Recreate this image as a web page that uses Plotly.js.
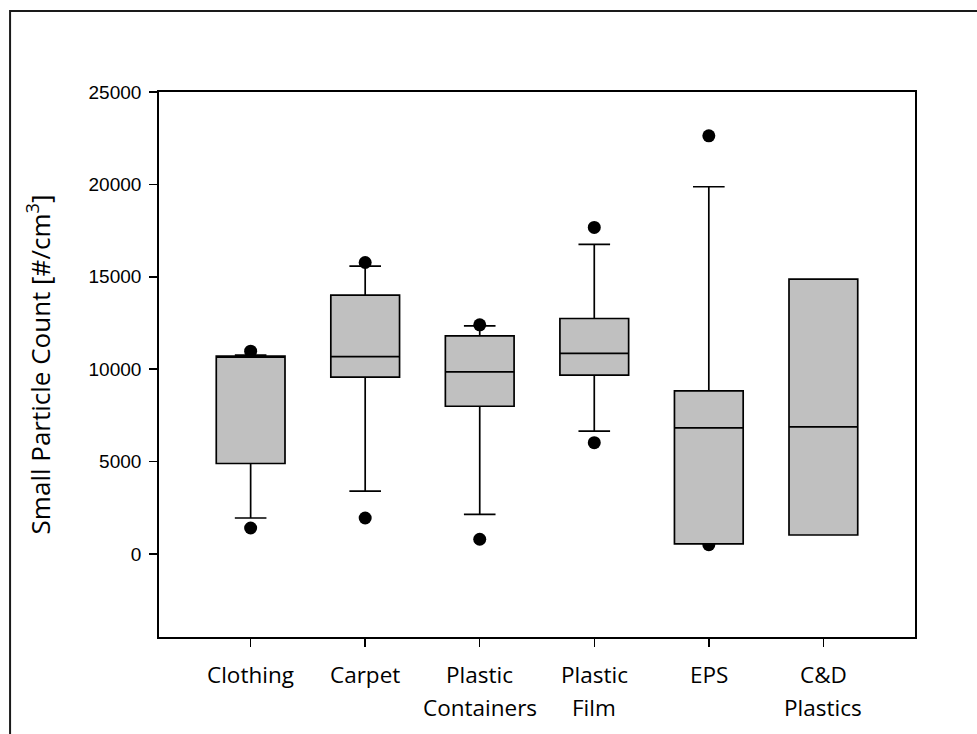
<!DOCTYPE html>
<html>
<head>
<meta charset="utf-8">
<script src="https://cdn.plot.ly/plotly-3.0.1.min.js"></script>
<style>
  html, body { margin: 0; padding: 0; background: #fff; }
  #chart { width: 977px; height: 734px; }
</style>
</head>
<body>
<div id="chart"></div>
<script>
// Material categories (label words are stacked one per line under the axis)
const categories = ['Clothing', 'Carpet', 'Plastic Containers', 'Plastic Film', 'EPS', 'C&D Plastics'];

// Box statistics, particles per cm^3
const q1           = [4890,  9570,  7990,  9670,  540,  1020];
const median       = [10650, 10680, 9850,  10850, 6820, 6870];
const q3           = [10700, 14000, 11800, 12740, 8820, 14870];
const lowerWhisker = [1940,  3400,  2140,  6640,  540,  1020];
const upperWhisker = [10760, 15570, 12340, 16750, 19870, 14870];

// Points beyond the whiskers (null where a group has none)
const lowPoints  = [1400,  1940,  790,   6020,  500,   null];
const highPoints = [10970, 15770, 12400, 17670, 22630, null];

// Y axis ticks
const yTicks = [0, 5000, 10000, 15000, 20000, 25000];
const yRange = [-4500, 25000];

const pointX = [], pointY = [];
categories.forEach((c, i) => {
  [lowPoints[i], highPoints[i]].forEach(v => {
    if (v !== null) { pointX.push(c); pointY.push(v); }
  });
});

// Points sit on the base subplot so the boxes (overlay subplot) paint over them
const points = {
  type: 'scatter', mode: 'markers',
  x: pointX, y: pointY,
  marker: { color: '#000', size: 13 },
  hoverinfo: 'y', showlegend: false
};

const boxes = {
  type: 'box',
  xaxis: 'x', yaxis: 'y2',
  x: categories,
  q1: q1, median: median, q3: q3,
  lowerfence: lowerWhisker, upperfence: upperWhisker,
  boxpoints: false,
  width: 0.6,
  whiskerwidth: 0.46,
  fillcolor: '#c0c0c0',
  line: { color: '#000', width: 1.7 },
  showlegend: false
};

// Category labels: one annotation per word line
const labelFont = { family: 'Open Sans, sans-serif', size: 22.5, color: '#000' };
const annotations = [];
categories.forEach(c => {
  c.split(' ').forEach((word, k) => {
    annotations.push({
      xref: 'x', yref: 'paper', x: c, y: 0,
      yanchor: 'middle', xanchor: 'center',
      yshift: -37 - 33 * k,
      text: word, showarrow: false, font: labelFont
    });
  });
});

const layout = {
  width: 977, height: 734,
  margin: { l: 159, r: 62, t: 92, b: 97 },
  paper_bgcolor: '#fff', plot_bgcolor: '#fff',
  showlegend: false,
  xaxis: {
    type: 'category',
    range: [-0.8, 5.8],
    showticklabels: false,
    ticks: 'outside', ticklen: 8, tickwidth: 1.5, tickcolor: '#000',
    showline: true, linecolor: '#000', linewidth: 1.8, mirror: true,
    showgrid: false, zeroline: false, fixedrange: true
  },
  yaxis: {
    range: yRange,
    tickvals: yTicks,
    ticktext: yTicks.map(String),
    ticks: 'outside', ticklen: 8, tickwidth: 1.5, tickcolor: '#000',
    ticklabelstandoff: 4,
    tickfont: { family: 'Liberation Sans, Arial, sans-serif', size: 19, color: '#000' },
    showline: true, linecolor: '#000', linewidth: 1.8, mirror: true,
    showgrid: false, zeroline: false, fixedrange: true,
    title: {
      text: 'Small Particle Count [#/cm<sup>3</sup>]',
      font: { family: 'Open Sans, sans-serif', size: 26, color: '#000' },
      standoff: 30
    }
  },
  yaxis2: {
    overlaying: 'y', matches: 'y', range: yRange,
    visible: false, showgrid: false, zeroline: false, fixedrange: true
  },
  annotations: annotations,
  shapes: [{
    type: 'rect', xref: 'paper', yref: 'paper',
    x0: -0.197, x1: 1.2, y0: -0.3, y1: 1.1487,
    line: { color: '#1a1a1a', width: 2 }, fillcolor: 'rgba(0,0,0,0)'
  }]
};

Plotly.newPlot('chart', [points, boxes], layout, { displayModeBar: false, staticPlot: true });
</script>
</body>
</html>
